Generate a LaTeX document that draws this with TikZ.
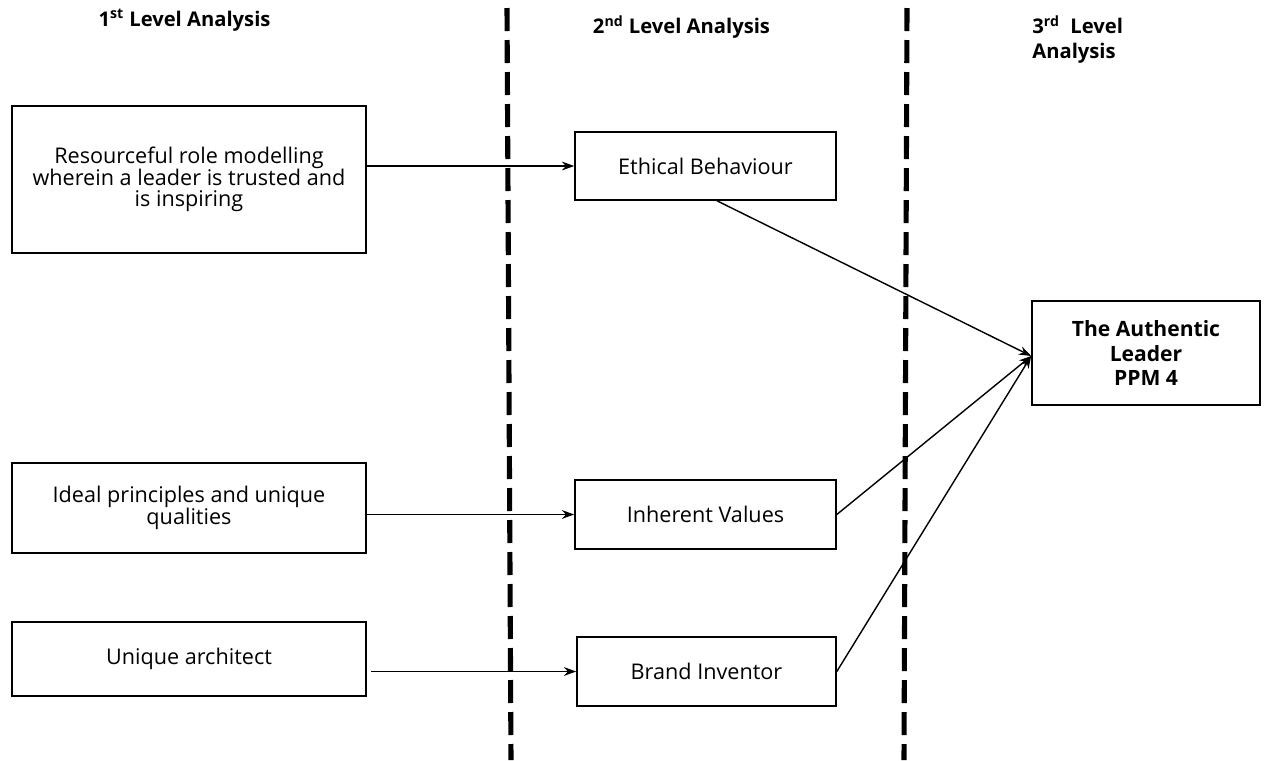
\documentclass[tikz,border=0pt]{standalone}
\usepackage{fontspec}
\setmainfont{Open Sans}
\usetikzlibrary{arrows.meta}
\begin{document}
\begin{tikzpicture}[
  box/.style={draw, line width=0.9pt, align=center, inner sep=0pt,
    font=\fontsize{12.3}{12.4}\selectfont},
  keybox/.style={box, font=\fontsize{12}{13.7}\selectfont\bfseries},
  heading/.style={font=\fontsize{11.5}{14}\selectfont\bfseries, inner sep=0pt},
  link/.style={line width=0.8pt, -{Stealth[length=7pt,width=5pt]}},
  divider/.style={line width=2.9pt, dash pattern=on 0.46cm off 0.18cm}
]
\useasboundingbox (0,0) rectangle (25.4,-15.2);

% column headings
\node[heading] (h1) at (3.69,-0.4) {1\textsuperscript{st} Level Analysis};
\node[heading] (h2) at (13.63,-0.54) {2\textsuperscript{nd} Level Analysis};
\node[heading, align=left, anchor=west] (h3) at (20.64,-0.79) {3\textsuperscript{rd}\ \ Level\\Analysis};

% dashed separators between the levels
\coordinate (s1a) at (10.14,-0.16);
\coordinate (s1b) at (10.22,-15.2);
\coordinate (s2a) at (18.14,-0.16);
\coordinate (s2b) at (18.08,-15.2);
\draw[divider] (s1a) -- (s1b);
\draw[divider] (s2a) -- (s2b);

% first level
\node[box, minimum width=7.08cm, minimum height=2.94cm] (A) at (3.78,-3.59)
  {Resourceful role modelling\\wherein a leader is trusted and\\is inspiring};
\node[box, minimum width=7.08cm, minimum height=1.80cm] (B) at (3.78,-10.16)
  {Ideal principles and unique\\qualities};
\node[box, minimum width=7.08cm, minimum height=1.48cm] (C) at (3.78,-13.18)
  {Unique architect};

% second level
\node[box, minimum width=5.22cm, minimum height=1.36cm] (D) at (14.11,-3.32) {Ethical Behaviour};
\node[box, minimum width=5.22cm, minimum height=1.38cm] (E) at (14.11,-10.29) {Inherent Values};
\node[box, minimum width=5.18cm, minimum height=1.38cm] (F) at (14.13,-13.43) {Brand Inventor};

% third level
\node[keybox, minimum width=4.56cm, minimum height=2.08cm] (G) at (22.92,-7.06)
  {The Authentic\\Leader\\PPM 4};

% connectors
\coordinate (Gin) at ([yshift=-0.06cm]G.west);
\draw[link] (A.east |- D.west) -- (D.west);
\draw[link] (B.east |- E.west) -- (E.west);
\draw[link, shorten <=0.08cm] (C.east |- F.west) -- (F.west);
\draw[link] ([xshift=0.23cm]D.south) -- (Gin);
\draw[link] (E.east) -- (Gin);
\draw[link] (F.east) -- (Gin);
\end{tikzpicture}
\end{document}
